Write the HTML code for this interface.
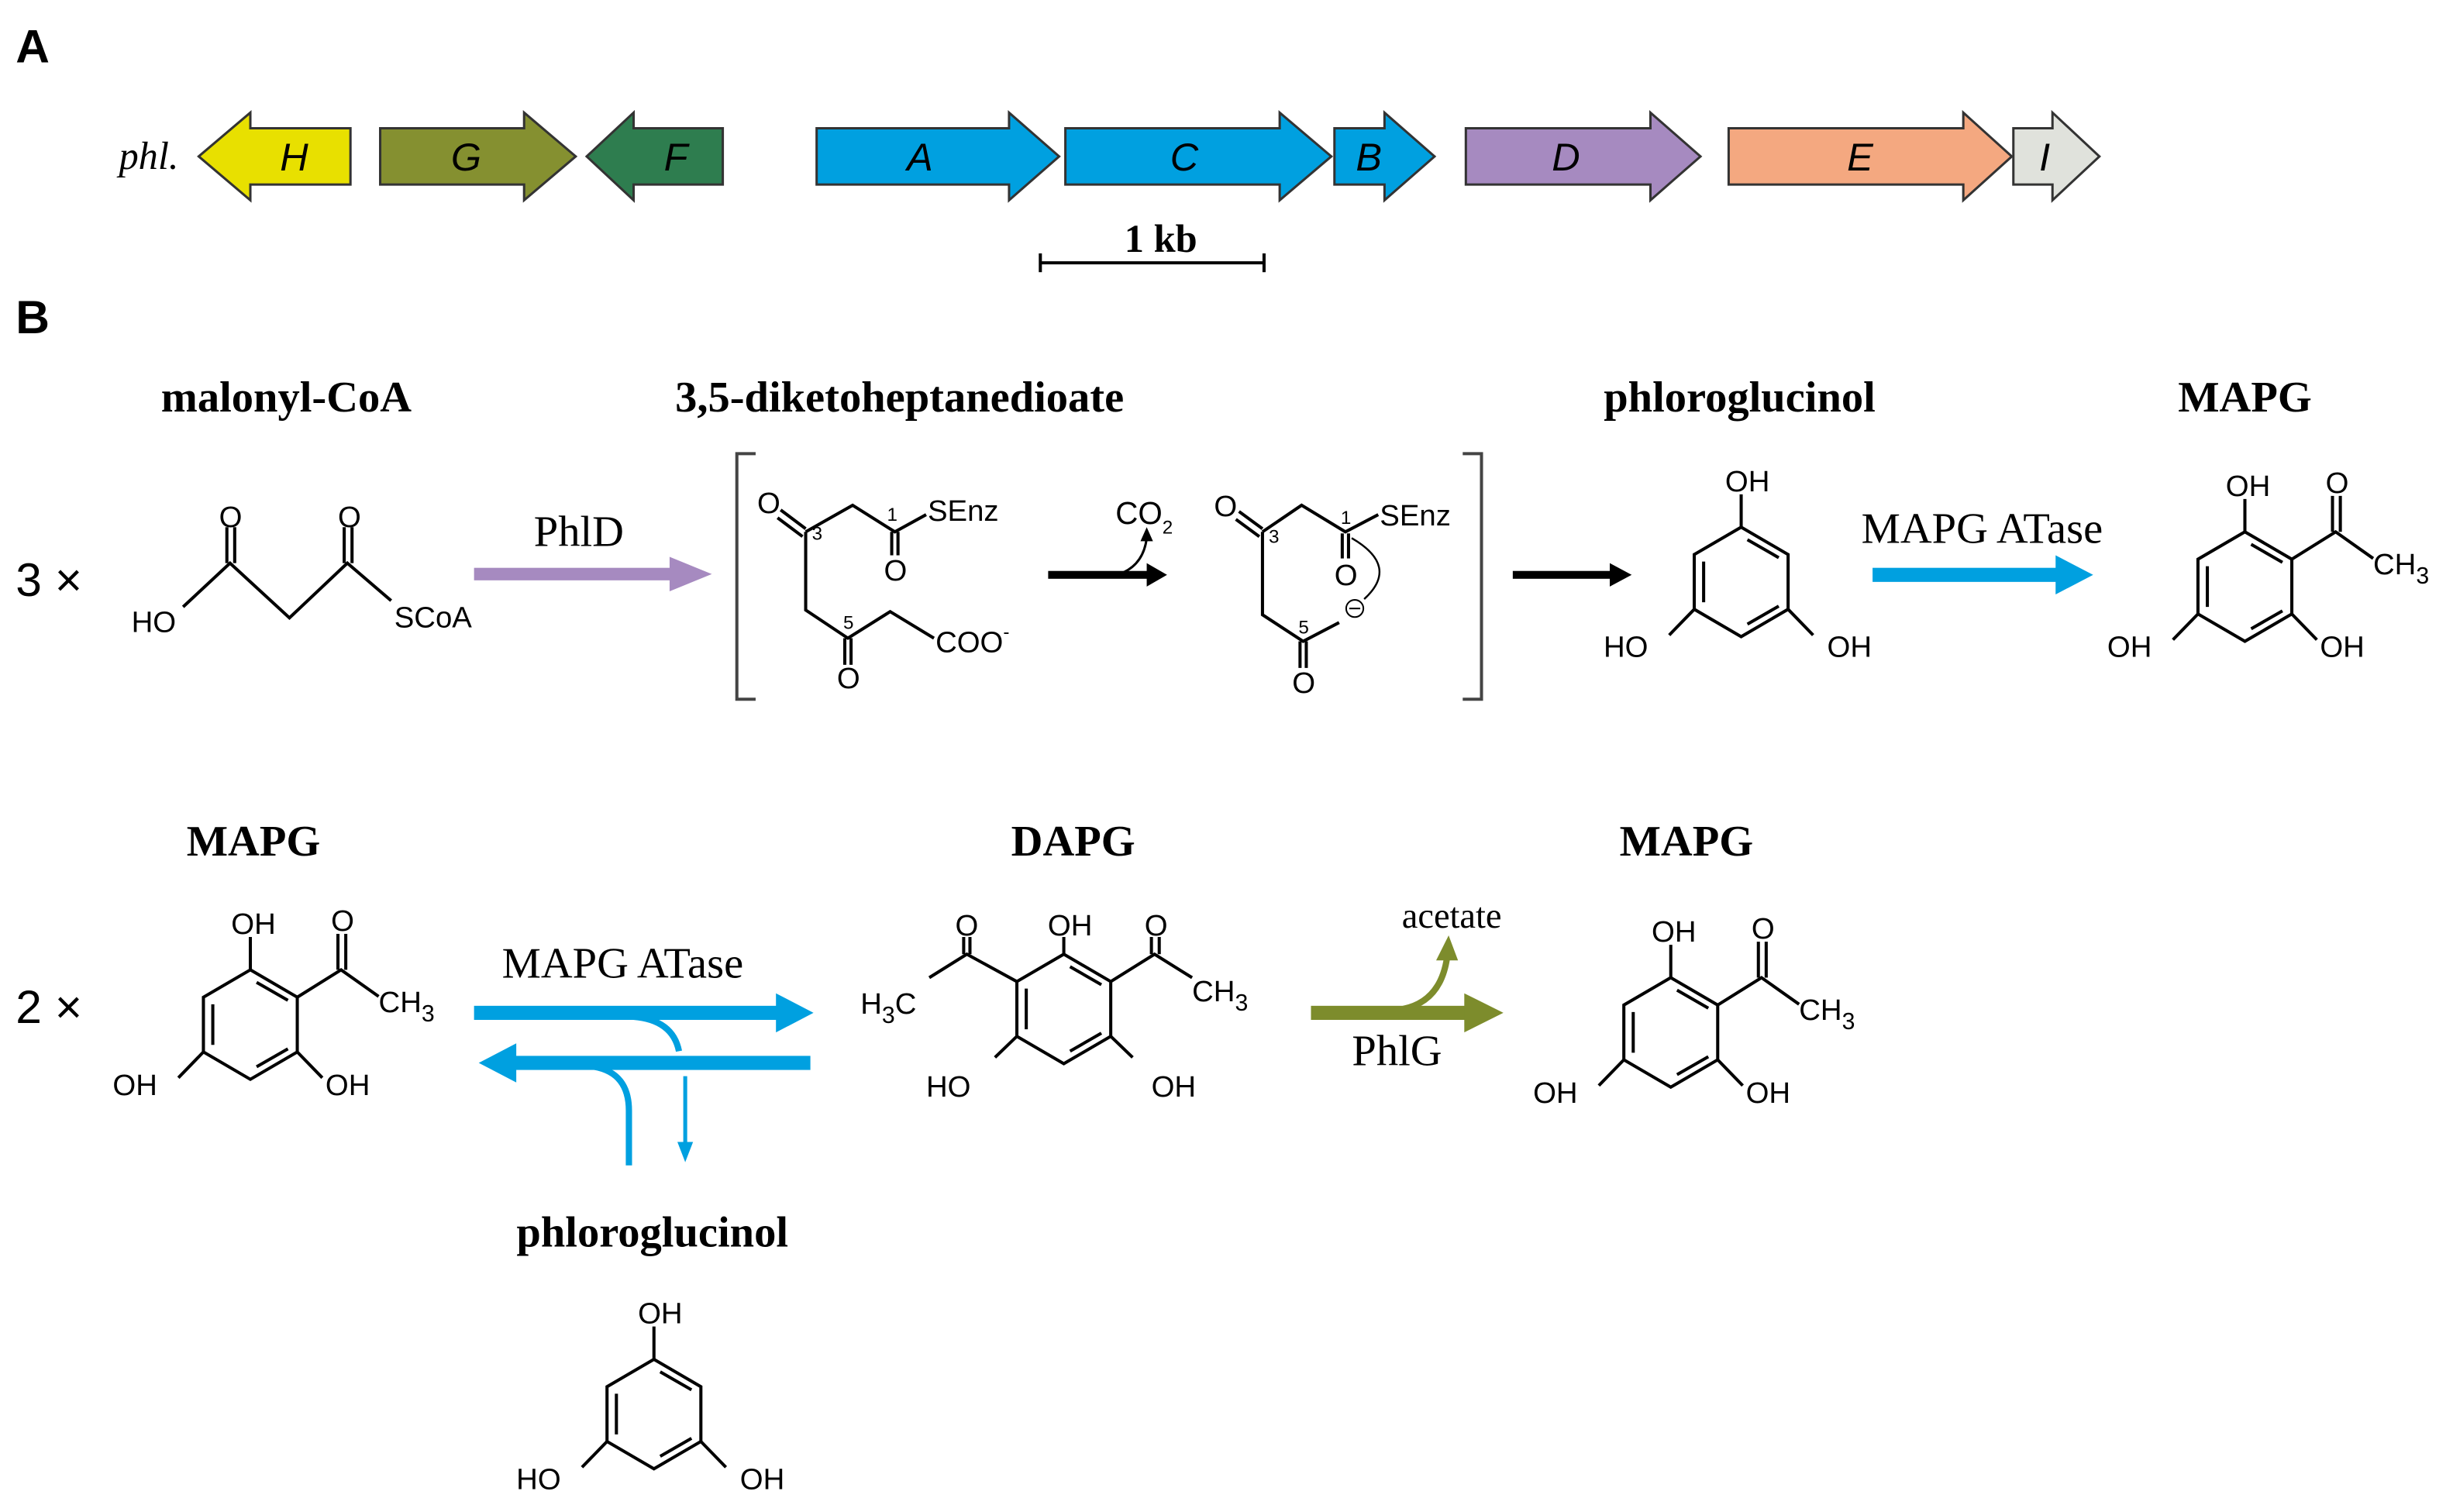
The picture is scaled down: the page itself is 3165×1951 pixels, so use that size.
<!DOCTYPE html>
<html><head><meta charset="utf-8"><style>
html,body{margin:0;padding:0;background:#fff;}
svg{display:block;}
.sans{font-family:"Liberation Sans",Arial,sans-serif;}
.serif{font-family:"Liberation Serif","Times New Roman",serif;}
</style></head><body>
<svg width="3165" height="1951" viewBox="0 0 1568 966.6" xmlns="http://www.w3.org/2000/svg">
<defs>
<g id="ring" fill="none" stroke="#000" stroke-width="2">
<polygon points="0,-35 30,-17.5 30,17.5 0,35 -30,17.5 -30,-17.5"/>
<line x1="4" y1="-27" x2="24" y2="-15.5"/>
<line x1="-24" y1="-13" x2="-24" y2="13"/>
<line x1="24" y1="15.5" x2="4" y2="27"/>
</g>
<g id="phg">
<use href="#ring"/>
<g stroke="#000" stroke-width="2"><line x1="0" y1="-35" x2="0" y2="-56"/><line x1="30" y1="17.5" x2="46" y2="34"/><line x1="-30" y1="17.5" x2="-46" y2="34"/></g>
<g class="sans" font-size="19" fill="#000"><text x="4" y="-58" text-anchor="middle">OH</text><text x="-88" y="48">HO</text><text x="55" y="48">OH</text></g>
</g>
<g id="mapg">
<use href="#ring"/>
<g stroke="#000" stroke-width="2" fill="none"><line x1="0" y1="-35" x2="0" y2="-56"/><line x1="30" y1="17.5" x2="46" y2="34"/><line x1="-30" y1="17.5" x2="-46" y2="34"/>
<polyline points="30,-17.5 58,-35 82,-18"/><line x1="56" y1="-35" x2="56" y2="-58"/><line x1="61" y1="-35" x2="61" y2="-58"/></g>
<g class="sans" font-size="19" fill="#000"><text x="2" y="-58" text-anchor="middle">OH</text><text x="59" y="-60" text-anchor="middle">O</text><text x="82" y="-8">CH<tspan font-size="15" dy="6">3</tspan></text><text x="-88" y="45">OH</text><text x="48" y="45">OH</text></g>
</g>
</defs>

<!-- Panel A -->
<text x="10" y="40" class="sans" font-size="30" font-weight="bold">A</text>
<text x="76" y="108" class="serif" font-size="25" font-style="italic">phl.</text>
<g stroke="#333" stroke-width="1.5">
<polygon points="127,100 160,72 160,82 224,82 224,118 160,118 160,128" fill="#e8e000"/>
<polygon points="243,82 335,82 335,72 368,100 335,128 335,118 243,118" fill="#859030"/>
<polygon points="375,100 405,72 405,82 462,82 462,118 405,118 405,128" fill="#2e7d4f"/>
<polygon points="522,82 645,82 645,72 677,100 645,128 645,118 522,118" fill="#00a0e0"/>
<polygon points="681,82 818,82 818,72 851,100 818,128 818,118 681,118" fill="#00a0e0"/>
<polygon points="853,82 885,82 885,72 917,100 885,128 885,118 853,118" fill="#00a0e0"/>
<polygon points="937,82 1055,82 1055,72 1087,100 1055,128 1055,118 937,118" fill="#a68ac0"/>
<polygon points="1105,82 1255,82 1255,72 1286,100 1255,128 1255,118 1105,118" fill="#f4a880"/>
<polygon points="1287,82 1312,82 1312,72 1342,100 1312,128 1312,118 1287,118" fill="#e0e2dc"/>
</g>
<g class="sans" font-size="25" font-style="italic" text-anchor="middle">
<text x="188" y="109">H</text><text x="298" y="109">G</text><text x="432" y="109">F</text>
<text x="588" y="109">A</text><text x="757" y="109">C</text><text x="875" y="109">B</text>
<text x="1001" y="109">D</text><text x="1189" y="109">E</text><text x="1307" y="109">I</text>
</g>
<text x="742" y="161" class="serif" font-size="25" font-weight="bold" text-anchor="middle">1 kb</text>
<g stroke="#000" stroke-width="2"><line x1="665" y1="168" x2="808" y2="168"/><line x1="665" y1="162" x2="665" y2="174"/><line x1="808" y1="162" x2="808" y2="174"/></g>

<!-- Panel B -->
<text x="10" y="213" class="sans" font-size="30" font-weight="bold">B</text>
<g class="serif" font-size="28" font-weight="bold" text-anchor="middle">
<text x="183" y="263">malonyl-CoA</text><text x="575" y="263">3,5-diketoheptanedioate</text>
<text x="1112" y="263">phloroglucinol</text><text x="1435" y="263">MAPG</text>
<text x="162" y="547">MAPG</text><text x="686" y="547">DAPG</text><text x="1078" y="547">MAPG</text>
<text x="417" y="797">phloroglucinol</text>
</g>
<text x="10" y="381" class="sans" font-size="30">3 ×</text>
<text x="10" y="654" class="sans" font-size="30">2 ×</text>

<!-- malonyl-CoA -->
<g stroke="#000" stroke-width="2" fill="none">
<polyline points="117,388 147,360 185,395 222,360 250,384"/>
<line x1="145" y1="360" x2="145" y2="337"/><line x1="150" y1="360" x2="150" y2="337"/>
<line x1="220" y1="360" x2="220" y2="337"/><line x1="225" y1="360" x2="225" y2="337"/>
</g>
<g class="sans" font-size="19"><text x="84" y="404">HO</text><text x="140" y="337">O</text><text x="216" y="337">O</text><text x="252" y="401">SCoA</text></g>

<!-- PhlD arrow -->
<text x="370" y="349" class="serif" font-size="28" text-anchor="middle">PhlD</text>
<rect x="303" y="363" width="128" height="8" fill="#a68ac0"/>
<polygon points="428,356 455,367 428,378" fill="#a68ac0"/>

<!-- brackets -->
<g stroke="#444" stroke-width="2" fill="none">
<polyline points="483,290 471,290 471,447 483,447"/>
<polyline points="935,290 947,290 947,447 935,447"/>
</g>
<!-- structure 1 -->
<g stroke="#000" stroke-width="2" fill="none">
<line x1="499" y1="326" x2="515" y2="338"/><line x1="497" y1="331" x2="513" y2="343"/>
<polyline points="515,340 545,323 572,340 592,329"/>
<line x1="570" y1="340" x2="570" y2="355"/><line x1="574" y1="340" x2="574" y2="355"/>
<polyline points="515,340 515,390 542,408 569,391 597,408"/>
<line x1="540" y1="408" x2="540" y2="425"/><line x1="544" y1="408" x2="544" y2="425"/>
</g>
<g class="sans" font-size="19"><text x="484" y="328">O</text><text x="593" y="333">SEnz</text><text x="565" y="371">O</text><text x="535" y="440">O</text><text x="598" y="417">COO<tspan font-size="12" dy="-9">-</tspan></text></g>
<g class="sans" font-size="12"><text x="519" y="345">3</text><text x="567" y="333">1</text><text x="539" y="402">5</text></g>

<!-- CO2 arrow -->
<rect x="670" y="365" width="65" height="5" fill="#000"/>
<polygon points="733,360 746,367.5 733,375" fill="#000"/>
<path d="M718,366 Q731,360 733,344" stroke="#000" stroke-width="1.5" fill="none"/>
<polygon points="729,346 733,337 737,346" fill="#000"/>
<text x="713" y="335" class="sans" font-size="20">CO<tspan font-size="12" dy="6">2</tspan></text>

<!-- structure 2 -->
<g stroke="#000" stroke-width="2" fill="none">
<line x1="792" y1="327" x2="807" y2="338"/><line x1="790" y1="332" x2="805" y2="343"/>
<polyline points="807,340 832,323 860,340 881,329"/>
<line x1="858" y1="341" x2="858" y2="357"/><line x1="862" y1="341" x2="862" y2="357"/>
<polyline points="807,340 807,393 833,410 856,398"/>
<line x1="831" y1="410" x2="831" y2="427"/><line x1="835" y1="410" x2="835" y2="427"/>
<path d="M864,344 Q895,362 872,383" stroke-width="1.2"/>
</g>
<circle cx="866" cy="389" r="5.5" fill="none" stroke="#000" stroke-width="1"/>
<line x1="862.5" y1="389" x2="869.5" y2="389" stroke="#000" stroke-width="1"/>
<g class="sans" font-size="19"><text x="776" y="330">O</text><text x="882" y="336">SEnz</text><text x="853" y="374">O</text><text x="826" y="443">O</text></g>
<g class="sans" font-size="12"><text x="811" y="347">3</text><text x="857" y="335">1</text><text x="830" y="405">5</text></g>

<!-- black arrow -->
<rect x="967" y="365" width="63" height="5" fill="#000"/>
<polygon points="1029,360 1043,367.5 1029,375" fill="#000"/>

<use href="#phg" x="1113" y="372"/>

<!-- MAPG ATase top -->
<text x="1267" y="347" class="serif" font-size="28" text-anchor="middle">MAPG ATase</text>
<rect x="1197" y="363" width="120" height="9" fill="#00a0e0"/>
<polygon points="1314,355 1338,367.5 1314,380" fill="#00a0e0"/>

<use href="#mapg" x="1435" y="375"/>

<!-- Row 2 -->
<use href="#mapg" x="160" y="655"/>

<text x="398" y="625" class="serif" font-size="28" text-anchor="middle">MAPG ATase</text>
<rect x="303" y="643" width="195" height="9" fill="#00a0e0"/>
<polygon points="496,635 520,647.5 496,660" fill="#00a0e0"/>
<rect x="327" y="675" width="191" height="9" fill="#00a0e0"/>
<polygon points="330,667 306,679.5 330,692" fill="#00a0e0"/>
<path d="M405,650 Q430,652 434,672" stroke="#00a0e0" stroke-width="4" fill="none"/>
<path d="M380,682 Q402,686 402,710 L402,745" stroke="#00a0e0" stroke-width="4" fill="none"/>
<line x1="438" y1="688" x2="438" y2="732" stroke="#00a0e0" stroke-width="2.5"/>
<polygon points="433,730 438,743 443,730" fill="#00a0e0"/>

<!-- DAPG -->
<g transform="translate(680,645)">
<use href="#ring"/>
<g stroke="#000" stroke-width="2" fill="none"><line x1="0" y1="-35" x2="0" y2="-46"/><line x1="30" y1="17.5" x2="44" y2="31"/><line x1="-30" y1="17.5" x2="-44" y2="31"/>
<polyline points="-30,-17.5 -62,-35 -86,-20"/><line x1="-60" y1="-35" x2="-60" y2="-46"/><line x1="-64" y1="-35" x2="-64" y2="-46"/>
<polyline points="30,-17.5 58,-35 82,-20"/><line x1="56" y1="-35" x2="56" y2="-46"/><line x1="61" y1="-35" x2="61" y2="-46"/></g>
<g class="sans" font-size="19"><text x="4" y="-47" text-anchor="middle">OH</text><text x="-62" y="-47" text-anchor="middle">O</text><text x="59" y="-47" text-anchor="middle">O</text>
<text x="82" y="-5">CH<tspan font-size="15" dy="6">3</tspan></text><text x="-130" y="3">H<tspan font-size="15" dy="6">3</tspan><tspan dy="-6">C</tspan></text>
<text x="-88" y="56">HO</text><text x="56" y="56">OH</text></g>
</g>

<!-- PhlG -->
<rect x="838" y="643" width="100" height="9" fill="#7d8c2c"/>
<polygon points="936,635 961,647.5 936,660" fill="#7d8c2c"/>
<path d="M897,645 Q921,640 925,612" stroke="#7d8c2c" stroke-width="4" fill="none"/>
<polygon points="918,614 926,598 932,614" fill="#7d8c2c"/>
<text x="928" y="593" class="serif" font-size="23" text-anchor="middle">acetate</text>
<text x="893" y="681" class="serif" font-size="28" text-anchor="middle">PhlG</text>

<use href="#mapg" x="1068" y="660"/>

<use href="#phg" x="418" y="904"/>
</svg>
</body></html>
